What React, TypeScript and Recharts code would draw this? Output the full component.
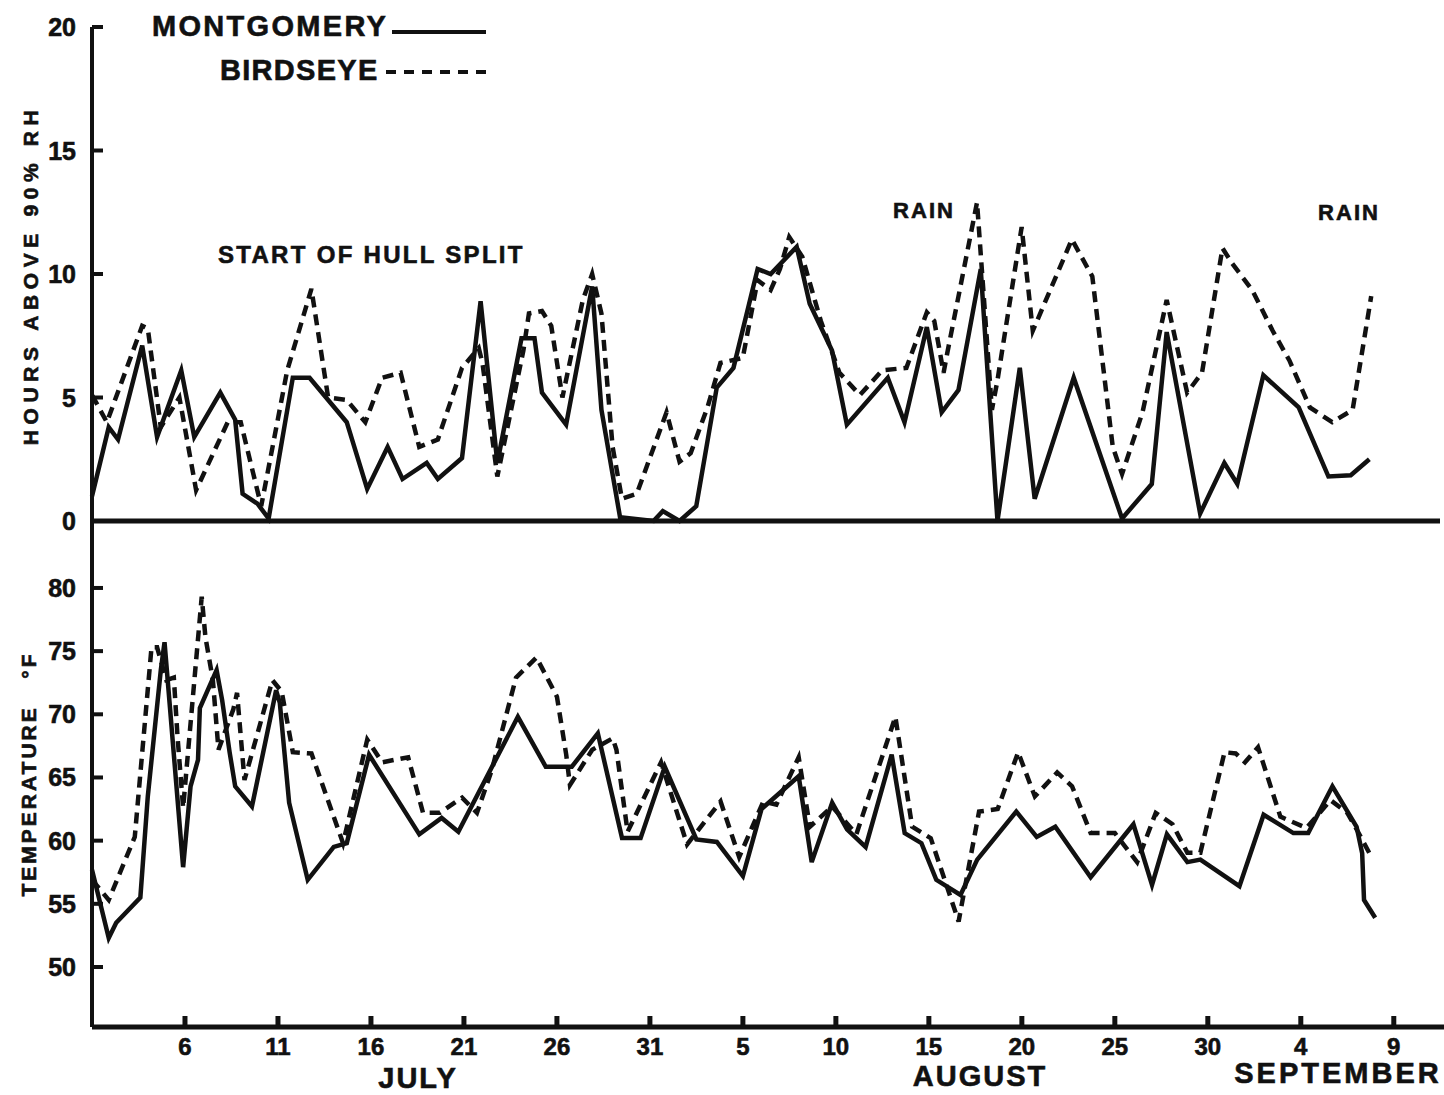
import React from 'react';
import { LineChart, Line, XAxis, YAxis, ReferenceLine } from 'recharts';

// day 0 = July 1
const tickDays = [5, 10, 15, 20, 25, 30, 35, 40, 45, 50, 55, 60, 65, 70];
const tickLabels = ['6', '11', '16', '21', '26', '31', '5', '10', '15', '20', '25', '30', '4', '9'];
const rhTicks = [0, 5, 10, 15, 20];
const tempTicks = [50, 55, 60, 65, 70, 75, 80];

// hours above 90% RH
const rhMontDay = [0, 0.9, 1.4, 2.7, 3.5, 4.8, 5.5, 6.9, 7.7, 8.1, 8.9, 9.5, 10.8, 11.7, 13.7, 14.8, 15.9, 16.7, 18.0, 18.6, 19.9, 20.9, 21.8, 23.1, 23.8, 24.2, 25.5, 26.9, 27.4, 28.4, 30.2, 30.7, 31.6, 32.5, 33.6, 34.5, 35.8, 36.5, 37.9, 38.6, 39.8, 40.6, 42.8, 43.7, 44.9, 45.7, 46.6, 47.8, 48.7, 49.9, 50.7, 52.8, 55.4, 57.0, 57.8, 59.6, 60.9, 61.6, 63.0, 64.9, 66.5, 67.7, 68.7];
const rhMontVal = [1.0, 3.8, 3.3, 7.1, 3.4, 6.1, 3.4, 5.2, 4.1, 1.1, 0.7, 0.1, 5.8, 5.8, 4.0, 1.3, 3.0, 1.7, 2.35, 1.7, 2.55, 8.9, 2.35, 7.4, 7.4, 5.2, 3.9, 9.5, 4.5, 0.15, 0, 0.4, 0, 0.6, 5.4, 6.2, 10.2, 10.0, 11.1, 8.8, 6.9, 3.9, 5.8, 4.0, 7.85, 4.4, 5.3, 10.2, 0, 6.2, 0.9, 5.8, 0.1, 1.5, 7.65, 0.3, 2.35, 1.5, 5.9, 4.6, 1.8, 1.85, 2.5];

const rhBirdDay = [0, 0.8, 2.7, 3.0, 3.7, 4.7, 5.6, 7.3, 8.0, 9.1, 10.5, 11.8, 12.7, 13.7, 14.7, 15.6, 16.6, 17.6, 18.6, 19.9, 20.8, 21.0, 21.8, 23.2, 23.5, 24.2, 24.7, 25.3, 26.4, 26.9, 27.4, 28.0, 28.5, 29.3, 30.9, 31.6, 32.2, 33.1, 33.8, 35.0, 35.8, 36.5, 37.0, 37.5, 38.2, 39.2, 40.2, 41.3, 42.5, 43.8, 44.9, 45.3, 45.8, 46.0, 47.6, 48.4, 48.7, 50.0, 50.6, 52.7, 53.8, 54.9, 55.4, 56.5, 57.8, 58.9, 59.7, 60.8, 61.3, 62.4, 63.5, 64.4, 65.5, 66.7, 67.8, 68.8];
const rhBirdVal = [5.1, 4.0, 7.9, 7.8, 3.8, 5.0, 1.25, 4.0, 4.0, 0.6, 6.1, 9.4, 5.0, 4.9, 4.0, 5.8, 6.0, 3.0, 3.3, 6.2, 7.0, 6.4, 1.8, 6.9, 8.4, 8.5, 7.9, 5.0, 8.95, 10.0, 8.4, 3.0, 0.9, 1.1, 4.4, 2.4, 2.75, 4.6, 6.4, 6.6, 9.75, 9.35, 10.2, 11.5, 10.7, 8.1, 6.0, 5.1, 6.1, 6.2, 8.45, 8.1, 6.0, 6.8, 12.9, 4.5, 5.7, 11.9, 7.7, 11.4, 9.9, 3.0, 1.9, 4.4, 8.95, 5.2, 6.0, 11.05, 10.45, 9.35, 7.7, 6.5, 4.6, 4.0, 4.5, 9.1];

// temperature, deg F
const tMontDay = [0, 0.9, 1.3, 2.6, 3.0, 3.7, 3.9, 4.2, 4.9, 5.3, 5.7, 5.8, 6.7, 7.0, 7.4, 7.7, 8.6, 9.9, 10.1, 10.6, 11.6, 13.0, 13.7, 14.9, 17.6, 18.8, 19.7, 22.9, 24.4, 25.8, 27.2, 28.5, 29.5, 30.8, 32.5, 33.6, 35.0, 36.0, 38.0, 38.7, 39.8, 40.6, 41.6, 43.0, 43.7, 44.6, 45.4, 46.7, 47.6, 49.7, 50.8, 51.8, 53.7, 56.0, 57.0, 57.8, 58.9, 59.6, 61.7, 63.0, 64.6, 65.4, 66.7, 68.0, 68.3, 68.4, 69.0];
const tMontVal = [57.7, 52.3, 53.5, 55.5, 63.5, 73.5, 75.7, 70.4, 57.9, 64.3, 66.4, 70.5, 73.5, 71.1, 67.0, 64.3, 62.7, 71.9, 70.9, 63.0, 56.9, 59.5, 59.8, 66.8, 60.5, 61.8, 60.7, 69.8, 65.85, 65.85, 68.5, 60.2, 60.2, 65.85, 60.1, 59.9, 57.2, 62.5, 65.1, 58.3, 63.0, 60.9, 59.5, 66.8, 60.6, 59.8, 56.9, 55.7, 58.5, 62.3, 60.3, 61.1, 57.1, 61.3, 56.5, 60.5, 58.3, 58.5, 56.4, 62.05, 60.6, 60.6, 64.3, 61.1, 59.0, 55.3, 53.9];

const tBirdDay = [0, 0.9, 2.3, 3.2, 3.5, 4.0, 4.4, 4.6, 4.9, 5.9, 6.1, 6.5, 6.8, 7.6, 7.8, 8.2, 9.7, 10.2, 10.8, 11.8, 13.5, 14.8, 15.6, 17.0, 17.8, 18.7, 19.9, 20.7, 21.5, 22.8, 23.9, 25.0, 25.5, 25.7, 26.9, 28.0, 28.2, 28.8, 30.6, 32.0, 33.8, 34.8, 36.1, 36.8, 38.0, 38.6, 39.8, 41.1, 43.2, 44.1, 45.1, 46.6, 46.9, 47.7, 48.7, 49.8, 50.7, 51.9, 52.7, 53.7, 55.0, 56.2, 57.2, 58.1, 58.9, 59.6, 60.9, 61.5, 62.0, 62.7, 63.9, 65.3, 66.6, 67.5, 68.0, 68.8];
const tBirdVal = [56.9, 55.3, 60.3, 75.3, 75.3, 72.7, 72.9, 68.2, 62.6, 79.3, 76.1, 72.7, 67.2, 70.4, 71.7, 64.8, 72.7, 71.8, 67.0, 66.9, 59.8, 68.0, 66.2, 66.6, 62.2, 62.2, 63.4, 62.2, 65.6, 72.9, 74.5, 71.4, 66.8, 64.4, 67.2, 68.1, 67.2, 60.7, 66.2, 59.7, 63.1, 58.7, 63.1, 62.85, 66.6, 61.1, 62.7, 60.5, 69.8, 61.1, 60.2, 53.6, 56.0, 62.3, 62.5, 67.0, 63.5, 65.4, 64.3, 60.6, 60.6, 58.3, 62.2, 61.3, 59.05, 59.05, 67.0, 66.9, 66.2, 67.4, 61.9, 61.0, 63.2, 62.2, 60.9, 58.7];

const toPoints = (days: number[], vals: number[]) => days.map((d, i) => ({ day: d, v: vals[i] }));

const FONT = '"Liberation Sans", Arial, sans-serif';
const INK = '#111';
const DASH = '11 7';
const LW = 4.5;

const YTick = (props: any) => {
  const { x, y, payload } = props;
  return (
    <g>
      <line x1={x} x2={x + 11} y1={y} y2={y} stroke={INK} strokeWidth={4} />
      <text x={x - 16} y={y} textAnchor="end" dominantBaseline="central" fontFamily={FONT} fontWeight="bold" fontSize={25} fill={INK} stroke={INK} strokeWidth={0.6}>
        {payload.value}
      </text>
    </g>
  );
};

const XTick = (props: any) => {
  const { x, y, payload } = props;
  const label = tickLabels[tickDays.indexOf(payload.value)];
  return (
    <g>
      <line x1={x} x2={x} y1={y} y2={y - 11} stroke={INK} strokeWidth={5} />
      <text x={x} y={y + 19} textAnchor="middle" dominantBaseline="central" fontFamily={FONT} fontWeight="bold" fontSize={24} fill={INK} stroke={INK} strokeWidth={0.6}>
        {label}
      </text>
    </g>
  );
};

const txt = { fontFamily: FONT, fontWeight: 'bold' as const, fill: INK, stroke: INK, strokeWidth: 0.6 };

const App: React.FC = () => {
  return (
    <div style={{ position: 'absolute', left: 0, top: 0, width: 1444, height: 1095, background: '#fff', overflow: 'hidden' }}>
      <div style={{ position: 'absolute', left: 0, top: 0 }}>
        <LineChart width={1444} height={540} margin={{ top: 27, right: 4, bottom: 19, left: 0 }}>
          <XAxis type="number" dataKey="day" domain={[0, 72.5]} hide />
          <YAxis
            type="number"
            domain={[0, 20]}
            ticks={rhTicks}
            width={92}
            axisLine={{ stroke: INK, strokeWidth: 4 }}
            tickLine={false}
            tickSize={0}
            tickMargin={0}
            tick={<YTick />}
          />
          <ReferenceLine y={0} stroke={INK} strokeWidth={5} />
          <Line data={toPoints(rhMontDay, rhMontVal)} dataKey="v" type="linear" stroke={INK} strokeWidth={LW} dot={false} isAnimationActive={false} />
          <Line data={toPoints(rhBirdDay, rhBirdVal)} dataKey="v" type="linear" stroke={INK} strokeWidth={LW} strokeDasharray={DASH} dot={false} isAnimationActive={false} />
        </LineChart>
      </div>
      <div style={{ position: 'absolute', left: 0, top: 500 }}>
        <LineChart width={1444} height={595} margin={{ top: 21, right: 0, bottom: 0, left: 0 }}>
          <XAxis
            type="number"
            dataKey="day"
            domain={[0, 72.7]}
            ticks={tickDays}
            height={68}
            axisLine={{ stroke: INK, strokeWidth: 5 }}
            tickLine={false}
            tickSize={0}
            tickMargin={0}
            tick={<XTick />}
          />
          <YAxis
            type="number"
            domain={[45.25, 85.3]}
            ticks={tempTicks}
            width={92}
            axisLine={{ stroke: INK, strokeWidth: 4 }}
            tickLine={false}
            tickSize={0}
            tickMargin={0}
            tick={<YTick />}
          />
          <Line data={toPoints(tMontDay, tMontVal)} dataKey="v" type="linear" stroke={INK} strokeWidth={LW} dot={false} isAnimationActive={false} />
          <Line data={toPoints(tBirdDay, tBirdVal)} dataKey="v" type="linear" stroke={INK} strokeWidth={LW} strokeDasharray={DASH} dot={false} isAnimationActive={false} />
        </LineChart>
      </div>
      <svg width={1444} height={1095} style={{ position: 'absolute', left: 0, top: 0, pointerEvents: 'none' }}>
        <text x={152} y={26} dominantBaseline="central" fontSize={29} letterSpacing={2.3} {...txt}>MONTGOMERY</text>
        <line x1={392} x2={486} y1={32} y2={32} stroke={INK} strokeWidth={4} />
        <text x={220} y={70} dominantBaseline="central" fontSize={29} letterSpacing={1.3} {...txt}>BIRDSEYE</text>
        <line x1={386} x2={486} y1={72} y2={72} stroke={INK} strokeWidth={4} strokeDasharray="10 8" />
        <text x={218} y={254} dominantBaseline="central" fontSize={24} letterSpacing={2.3} {...txt}>START OF HULL SPLIT</text>
        <text x={924} y={210} textAnchor="middle" dominantBaseline="central" fontSize={22} letterSpacing={2} {...txt}>RAIN</text>
        <text x={1349} y={212} textAnchor="middle" dominantBaseline="central" fontSize={22} letterSpacing={2} {...txt}>RAIN</text>
        <text transform="translate(30,275) rotate(-90)" textAnchor="middle" dominantBaseline="central" fontSize={21} letterSpacing={5.6} style={{ whiteSpace: 'pre' }} {...txt}>HOURS ABOVE 90% RH</text>
        <text transform="translate(28,774) rotate(-90)" textAnchor="middle" dominantBaseline="central" fontSize={21} letterSpacing={3} style={{ whiteSpace: 'pre' }} {...txt}>TEMPERATURE   °F</text>
        <text x={418} y={1078} textAnchor="middle" dominantBaseline="central" fontSize={29} letterSpacing={2} {...txt}>JULY</text>
        <text x={980} y={1076} textAnchor="middle" dominantBaseline="central" fontSize={29} letterSpacing={2} {...txt}>AUGUST</text>
        <text x={1338} y={1073} textAnchor="middle" dominantBaseline="central" fontSize={29} letterSpacing={3} {...txt}>SEPTEMBER</text>
      </svg>
    </div>
  );
};

export default App;
